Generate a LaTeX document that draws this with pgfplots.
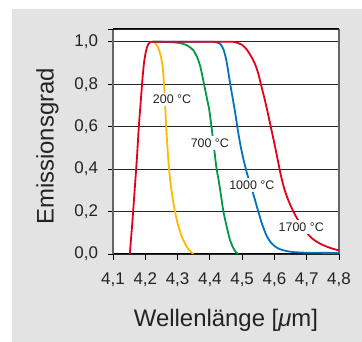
\documentclass[border=0pt]{standalone}
\usepackage{fontspec}
\setmainfont{Liberation Sans}
\usepackage{pgfplots}
\pgfplotsset{compat=1.18}
\definecolor{bg}{RGB}{227,227,227}
\definecolor{cred}{RGB}{226,0,26}
\definecolor{cyel}{RGB}{253,186,0}
\definecolor{cgrn}{RGB}{0,153,68}
\definecolor{cblu}{RGB}{0,116,190}
\definecolor{txt}{RGB}{35,35,35}
\tikzset{lbl/.style={fill=white, inner sep=2.5bp, font=\fontsize{12.5}{14}\selectfont, text=txt}}
\begin{document}
\begin{tikzpicture}
\fill[bg] (12bp,0) rectangle (362bp,333bp);
\path[use as bounding box] (0,0) rectangle (362bp,342bp);
\begin{axis}[
  at={(113bp,88bp)}, anchor=south west,
  scale only axis, width=226bp, height=225bp,
  xmin=4.1, xmax=4.8, ymin=0, ymax=1.06,
  xtick={4.1,4.2,4.3,4.4,4.5,4.6,4.7,4.8},
  ytick={0,0.2,0.4,0.6,0.8,1.0},
  extra y ticks={1.06}, extra y tick labels={},
  ymajorgrids, major grid style={black!85, line width=0.9bp},
  tick align=outside, xtick pos=bottom, ytick pos=left,
  major tick length=5.5bp,
  tick style={black, line width=0.9bp},
  axis background/.style={fill=white},
  separate axis lines,
  x axis line style={black, line width=1bp},
  y axis line style={black!60, line width=1.6bp},
  xticklabel style={font=\fontsize{17}{20}\selectfont, text=txt, yshift=-9.5bp},
  yticklabel style={font=\fontsize{17}{20}\selectfont, text=txt, xshift=-6bp},
  xlabel={Wellenlänge [\textit{μ}m]},
  ylabel={Emissionsgrad},
  xlabel style={font=\fontsize{24}{28}\selectfont, text=txt, at={(axis description cs:0.5,-0.323)}, anchor=base},
  ylabel style={font=\fontsize{24}{28}\selectfont, text=txt, at={(axis description cs:-0.263,0.478)}, anchor=base},
  every axis plot/.append style={line width=1.8bp, smooth, tension=0.4},
  /pgf/number format/.cd, use comma, fixed, fixed zerofill, precision=1, assume math mode=true,
]
% 200 C
\addplot[cyel] coordinates {
(4.222,1.0) (4.230,0.995) (4.237,0.98) (4.243,0.96) (4.249,0.925) (4.254,0.88)
(4.258,0.80) (4.261,0.72) (4.264,0.62) (4.268,0.52) (4.272,0.43) (4.277,0.35)
(4.284,0.27) (4.292,0.20) (4.300,0.145) (4.310,0.095) (4.318,0.065) (4.328,0.035)
(4.338,0.015) (4.349,0.0)};
% 700 C
\addplot[cgrn] coordinates {
(4.222,1.0) (4.26,0.999) (4.29,0.997) (4.31,0.993) (4.328,0.984) (4.340,0.972)
(4.349,0.96) (4.360,0.93) (4.371,0.88) (4.382,0.80) (4.390,0.74) (4.398,0.68)
(4.405,0.60) (4.413,0.50) (4.420,0.41) (4.428,0.34) (4.435,0.27) (4.442,0.20)
(4.452,0.13) (4.462,0.068) (4.472,0.03) (4.480,0.01) (4.488,0.0)};
% 1000 C
\addplot[cblu] coordinates {
(4.222,1.0) (4.40,1.0) (4.42,0.997) (4.432,0.99) (4.442,0.965) (4.45,0.92)
(4.456,0.87) (4.462,0.81) (4.470,0.74) (4.478,0.67) (4.486,0.59) (4.495,0.51)
(4.505,0.44) (4.515,0.38) (4.525,0.33) (4.537,0.27) (4.550,0.20) (4.562,0.14)
(4.576,0.085) (4.590,0.052) (4.605,0.032) (4.620,0.021) (4.640,0.013) (4.660,0.009)
(4.70,0.006) (4.80,0.005)};
% 1700 C
\addplot[cred] coordinates {
(4.152,0) (4.160,0.15) (4.167,0.3) (4.174,0.45) (4.180,0.6) (4.186,0.72)
(4.191,0.82) (4.196,0.9) (4.202,0.955) (4.208,0.985) (4.215,0.998) (4.222,1.0)
(4.30,1.0) (4.46,1.0) (4.48,0.997) (4.50,0.985) (4.515,0.962) (4.53,0.925)
(4.54,0.895) (4.55,0.85) (4.558,0.80) (4.568,0.74) (4.578,0.675) (4.59,0.59)
(4.60,0.52) (4.61,0.445) (4.62,0.37) (4.63,0.31) (4.64,0.265) (4.65,0.228)
(4.66,0.196) (4.67,0.168) (4.68,0.143) (4.69,0.12) (4.70,0.10) (4.71,0.083)
(4.72,0.069) (4.74,0.05) (4.76,0.036) (4.78,0.025) (4.80,0.017)};
\node[lbl] at (axis cs:4.283,0.728) {200 °C};
\node[lbl] at (axis cs:4.400,0.523) {700 °C};
\node[lbl] at (axis cs:4.530,0.326) {1000 °C};
\node[lbl] at (axis cs:4.683,0.127) {1700 °C};
\end{axis}
\end{tikzpicture}
\end{document}
